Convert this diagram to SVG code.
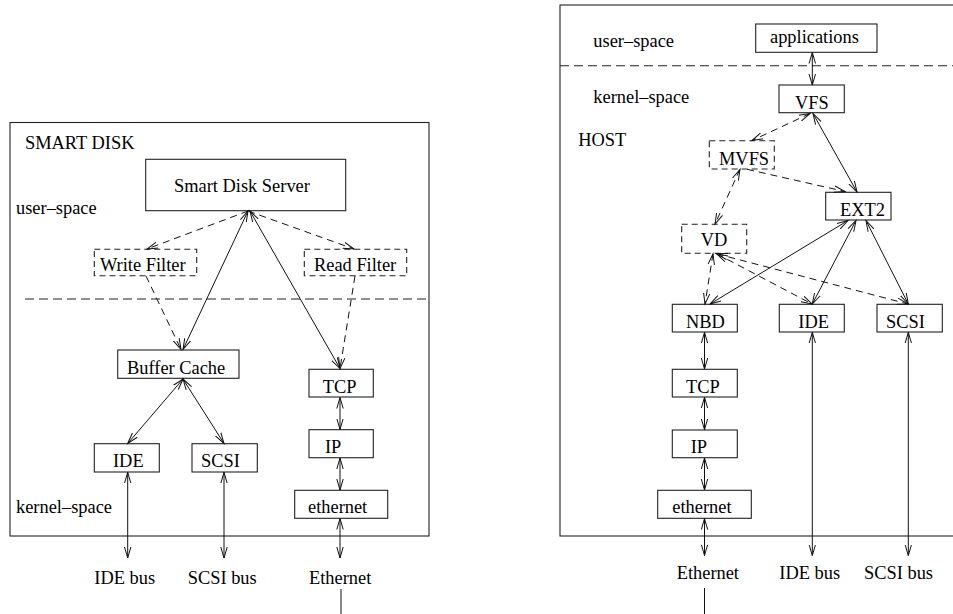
<svg xmlns="http://www.w3.org/2000/svg" width="953" height="614" viewBox="0 0 953 614">
<style>
text{font-family:"Liberation Serif","Times New Roman",serif;font-size:18.4px;fill:#000}
.b{fill:none;stroke:#222;stroke-width:1.1}
.d{fill:none;stroke:#222;stroke-width:1.1;stroke-dasharray:6 4}
.sep{fill:none;stroke:#222;stroke-width:1.1;stroke-dasharray:9 5}
.c{fill:none;stroke:#111;stroke-width:1}
.cd{fill:none;stroke:#111;stroke-width:1;stroke-dasharray:7 5}
.e{marker-end:url(#ah)}
.s{marker-start:url(#ah)}
</style>
<defs>
<marker id="ah" markerUnits="userSpaceOnUse" markerWidth="14" markerHeight="10" refX="11" refY="4" orient="auto-start-reverse">
<path d="M0,0.8 L11,4 L0,7.2" fill="none" stroke="#111" stroke-width="1"/>
</marker>
</defs>
<g id="smart-disk">
<rect class="b" x="10" y="122.5" width="419" height="413.5"/>
<text x="25" y="149">SMART DISK</text>
<text x="16" y="214">user–space</text>
<text x="16" y="513">kernel–space</text>
<line class="sep" x1="25" y1="299" x2="429" y2="299"/>
</g>
<g id="sds"><rect class="b" x="145.7" y="159.3" width="200" height="51.4"/><text x="174" y="191.5">Smart Disk Server</text></g>
<g id="write-filter"><rect class="d" x="94.3" y="249.3" width="102.4" height="26.4"/><text x="100" y="271">Write Filter</text></g>
<g id="read-filter"><rect class="d" x="304.3" y="249.3" width="102.4" height="26.4"/><text x="314" y="271">Read Filter</text></g>
<g id="buffer-cache"><rect class="b" x="117.7" y="350" width="121.3" height="28.3"/><text x="127" y="374">Buffer Cache</text></g>
<g id="ide-l"><rect class="b" x="94.3" y="443.7" width="65" height="28.3"/><text x="113" y="466.7">IDE</text></g>
<g id="scsi-l"><rect class="b" x="192" y="443.7" width="65.3" height="28.3"/><text x="201" y="466.7">SCSI</text></g>
<g id="tcp-l"><rect class="b" x="309" y="369.3" width="64.3" height="27.7"/><text x="322.7" y="392.7">TCP</text></g>
<g id="ip-l"><rect class="b" x="309" y="429.7" width="64.3" height="28"/><text x="325" y="452.7">IP</text></g>
<g id="ethernet-l"><rect class="b" x="294.7" y="490.3" width="93" height="28"/><text x="308" y="513.3">ethernet</text></g>
<g id="labels-l">
<text x="94.3" y="583.5">IDE bus</text>
<text x="187.7" y="583.5">SCSI bus</text>
<text x="309" y="583.5">Ethernet</text>
</g>
<g id="host">
<rect class="b" x="560" y="5" width="400" height="531"/>
<line class="sep" x1="560" y1="65.7" x2="953" y2="65.7"/>
<text x="593.3" y="46.7">user–space</text>
<text x="593.3" y="103.3">kernel–space</text>
<text x="578.3" y="146">HOST</text>
</g>
<g id="applications"><rect class="b" x="755.7" y="24" width="121.3" height="28.3"/><text x="770" y="43.3">applications</text></g>
<g id="vfs"><rect class="b" x="779" y="85" width="65.3" height="27.7"/><text x="795" y="109">VFS</text></g>
<g id="mvfs"><rect class="d" x="709.3" y="140.7" width="65" height="28.3"/><text x="719" y="165">MVFS</text></g>
<g id="ext2"><rect class="b" x="825.7" y="192.3" width="65.3" height="27.7"/><text x="840" y="216.3">EXT2</text></g>
<g id="vd"><rect class="d" x="681.7" y="224.3" width="65" height="29"/><text x="700.7" y="246">VD</text></g>
<g id="nbd"><rect class="b" x="672.3" y="304.3" width="65" height="27.7"/><text x="686" y="327.7">NBD</text></g>
<g id="ide-r"><rect class="b" x="779.3" y="304.3" width="65" height="27.7"/><text x="798.3" y="327.7">IDE</text></g>
<g id="scsi-r"><rect class="b" x="877" y="304.3" width="65.3" height="27.7"/><text x="886" y="327.7">SCSI</text></g>
<g id="tcp-r"><rect class="b" x="672.3" y="369.3" width="65" height="27.7"/><text x="686" y="392.7">TCP</text></g>
<g id="ip-r"><rect class="b" x="672.3" y="430" width="65" height="27.7"/><text x="690.7" y="452.7">IP</text></g>
<g id="ethernet-r"><rect class="b" x="657.7" y="490.3" width="93.6" height="28"/><text x="672.3" y="513.3">ethernet</text></g>
<g id="labels-r">
<text x="676.7" y="578.5">Ethernet</text>
<text x="779.3" y="578.5">IDE bus</text>
<text x="864" y="578.5">SCSI bus</text>
</g>
<g id="connectors">
<line class="cd e" x1="248" y1="211" x2="147" y2="249"/>
<line class="cd e" x1="248" y1="211" x2="354" y2="249"/>
<line class="c s e" x1="248" y1="211" x2="183" y2="349.5"/>
<line class="c s e" x1="250" y1="211" x2="340" y2="368.5"/>
<line class="cd e" x1="146" y1="276" x2="181" y2="349.5"/>
<line class="cd e" x1="355" y1="276" x2="340" y2="368.5"/>
<line class="c s e" x1="183" y1="379" x2="127.7" y2="443.5"/>
<line class="c s e" x1="183" y1="379" x2="224" y2="443.5"/>
<line class="c s e" x1="340" y1="397.5" x2="340" y2="429.5"/>
<line class="c s e" x1="340" y1="458" x2="340" y2="490"/>
<line class="c s e" x1="340" y1="518.5" x2="340" y2="558"/>
<line class="c s e" x1="127.7" y1="472.3" x2="127.7" y2="558"/>
<line class="c s e" x1="224" y1="472.3" x2="224" y2="558"/>
<line class="c" x1="341" y1="589" x2="341" y2="614"/>
<line class="c s e" x1="812.3" y1="52.5" x2="812.3" y2="85"/>
<line class="cd s e" x1="810" y1="113.5" x2="752" y2="140.5"/>
<line class="c s e" x1="813" y1="113.5" x2="857" y2="192"/>
<line class="cd e" x1="747" y1="169.3" x2="845" y2="191.5"/>
<line class="cd s e" x1="740" y1="169.3" x2="715" y2="224"/>
<line class="cd s e" x1="713" y1="253.8" x2="705" y2="304"/>
<line class="cd s e" x1="716.7" y1="253.8" x2="812" y2="304"/>
<line class="cd s e" x1="716.7" y1="253.8" x2="908" y2="304"/>
<line class="c s e" x1="848" y1="220.5" x2="710" y2="304"/>
<line class="c s e" x1="856" y1="220.5" x2="812.3" y2="304"/>
<line class="c s e" x1="866" y1="220.5" x2="908.3" y2="304"/>
<line class="c s e" x1="704.5" y1="332.3" x2="704.5" y2="369"/>
<line class="c s e" x1="704.5" y1="397.3" x2="704.5" y2="429.7"/>
<line class="c s e" x1="704.5" y1="458" x2="704.5" y2="490"/>
<line class="c s e" x1="704.5" y1="518.6" x2="704.5" y2="555.5"/>
<line class="c s e" x1="812.3" y1="332.3" x2="812.3" y2="555.5"/>
<line class="c s e" x1="908.3" y1="332.3" x2="908.3" y2="555.5"/>
<line class="c" x1="704.5" y1="588" x2="704.5" y2="614"/>
</g>
</svg>
